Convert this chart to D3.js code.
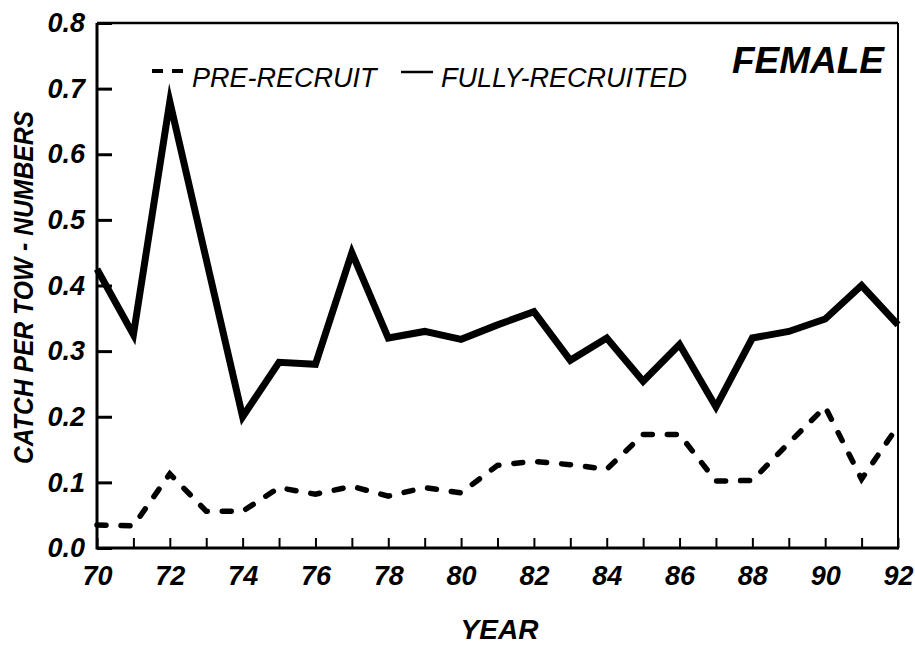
<!DOCTYPE html>
<html>
<head>
<meta charset="utf-8">
<script src="https://cdn.jsdelivr.net/npm/d3@7"></script>
<style>
  html, body { margin: 0; padding: 0; background: #fff; }
  svg { display: block; }
  text { font-family: "Liberation Sans", Arial, Helvetica, sans-serif; fill: #000; }
</style>
</head>
<body>
<svg id="chart" width="915" height="645"></svg>
<script>
// Survey years (two-digit) and catch per tow, female
const years = [70, 71, 72, 73, 74, 75, 76, 77, 78, 79, 80, 81, 82, 83, 84, 85, 86, 87, 88, 89, 90, 91, 92];
const fullyRecruited = [0.425, 0.325, 0.68, 0.44, 0.20, 0.283, 0.28, 0.45, 0.32, 0.33, 0.318, 0.34, 0.36, 0.286, 0.32, 0.254, 0.31, 0.215, 0.32, 0.33, 0.349, 0.40, 0.34];
const preRecruit = [0.035, 0.034, 0.113, 0.056, 0.056, 0.092, 0.082, 0.094, 0.079, 0.092, 0.084, 0.126, 0.132, 0.127, 0.12, 0.173, 0.173, 0.102, 0.103, 0.16, 0.215, 0.105, 0.186];
const yTicks = [0.0, 0.1, 0.2, 0.3, 0.4, 0.5, 0.6, 0.7, 0.8];
const xLabelTicks = [70, 72, 74, 76, 78, 80, 82, 84, 86, 88, 90, 92];
const legendLabels = ["PRE-RECRUIT", "FULLY-RECRUITED"];
const panelTitle = "FEMALE";
const xTitle = "YEAR";
const yTitle = "CATCH PER TOW - NUMBERS";

const svg = d3.select("#chart");
const plot = { left: 97, right: 898, top: 23, bottom: 548 };

const x = d3.scaleLinear().domain([70, 92]).range([plot.left, plot.right]);
const y = d3.scaleLinear().domain([0, 0.8]).range([plot.bottom, plot.top]);

// Y axis: ticks point into the plot, labels on the left
const yAxis = d3.axisLeft(y).tickValues(yTicks).tickFormat(d3.format(".1f")).tickSize(-15).tickPadding(28);
const gy = svg.append("g").attr("transform", `translate(${plot.left},0)`).call(yAxis);
gy.select(".domain").remove();
gy.selectAll(".tick line").attr("stroke", "#000").attr("stroke-width", 3);
gy.selectAll(".tick text")
  .attr("x", -12)
  .style("font-size", "27px").style("font-weight", "bold").style("font-style", "italic");

// X axis: a tick every year pointing up, labels every second year
const xAxisMinor = d3.axisBottom(x).tickValues(years).tickSize(-10).tickFormat("");
const gxm = svg.append("g").attr("transform", `translate(0,${plot.bottom})`).call(xAxisMinor);
gxm.select(".domain").remove();
gxm.selectAll(".tick line").attr("stroke", "#000").attr("stroke-width", 2);

const xAxis = d3.axisBottom(x).tickValues(xLabelTicks).tickSize(0).tickPadding(18).tickFormat(d3.format("d"));
const gx = svg.append("g").attr("transform", `translate(0,${plot.bottom})`).call(xAxis);
gx.select(".domain").remove();
gx.selectAll(".tick text")
  .style("font-size", "27px").style("font-weight", "bold").style("font-style", "italic");

// Plot frame
svg.append("line").attr("x1", plot.left).attr("x2", plot.right).attr("y1", plot.bottom).attr("y2", plot.bottom)
  .attr("stroke", "#000").attr("stroke-width", 3);
svg.append("line").attr("x1", plot.left).attr("x2", plot.left).attr("y1", plot.top).attr("y2", plot.bottom + 1.5)
  .attr("stroke", "#000").attr("stroke-width", 3);
svg.append("line").attr("x1", plot.left).attr("x2", plot.right).attr("y1", plot.top).attr("y2", plot.top)
  .attr("stroke", "#000").attr("stroke-width", 2.5);
svg.append("line").attr("x1", plot.right).attr("x2", plot.right).attr("y1", plot.top).attr("y2", plot.bottom + 1.5)
  .attr("stroke", "#000").attr("stroke-width", 2);

// Series lines
const line = d3.line().x((d, i) => x(years[i])).y(d => y(d));

svg.append("path").datum(fullyRecruited)
  .attr("d", line).attr("fill", "none")
  .attr("stroke", "#000").attr("stroke-width", 7)
  .attr("stroke-linejoin", "miter").attr("stroke-miterlimit", 10);

svg.append("path").datum(preRecruit)
  .attr("d", line).attr("fill", "none")
  .attr("stroke", "#000").attr("stroke-width", 5.5)
  .attr("stroke-linecap", "round")
  .attr("stroke-dasharray", "9,15");

// Legend
const legend = svg.append("g");
legend.append("line").attr("x1", 152).attr("x2", 183).attr("y1", 71).attr("y2", 71)
  .attr("stroke", "#000").attr("stroke-width", 4).attr("stroke-dasharray", "11,9");
legend.append("text").attr("x", 192).attr("y", 87).text(legendLabels[0])
  .style("font-size", "27px").style("font-style", "italic");
legend.append("line").attr("x1", 401).attr("x2", 433).attr("y1", 72).attr("y2", 72)
  .attr("stroke", "#000").attr("stroke-width", 2.5);
legend.append("text").attr("x", 441).attr("y", 87).text(legendLabels[1])
  .style("font-size", "27px").style("font-style", "italic");

// Panel title
svg.append("text").attr("x", 884).attr("y", 73).attr("text-anchor", "end").text(panelTitle)
  .style("font-size", "37px").style("font-weight", "bold").style("font-style", "italic");

// Axis titles
svg.append("text").attr("x", (plot.left + plot.right) / 2 + 2).attr("y", 639).attr("text-anchor", "middle").text(xTitle)
  .style("font-size", "28px").style("font-weight", "bold").style("font-style", "italic");

svg.append("text")
  .attr("transform", `translate(33,${(plot.top + plot.bottom) / 2 + 2}) rotate(-90)`)
  .attr("text-anchor", "middle")
  .attr("textLength", 353).attr("lengthAdjust", "spacingAndGlyphs")
  .text(yTitle)
  .style("font-size", "27px").style("font-weight", "bold").style("font-style", "italic");
</script>
</body>
</html>
